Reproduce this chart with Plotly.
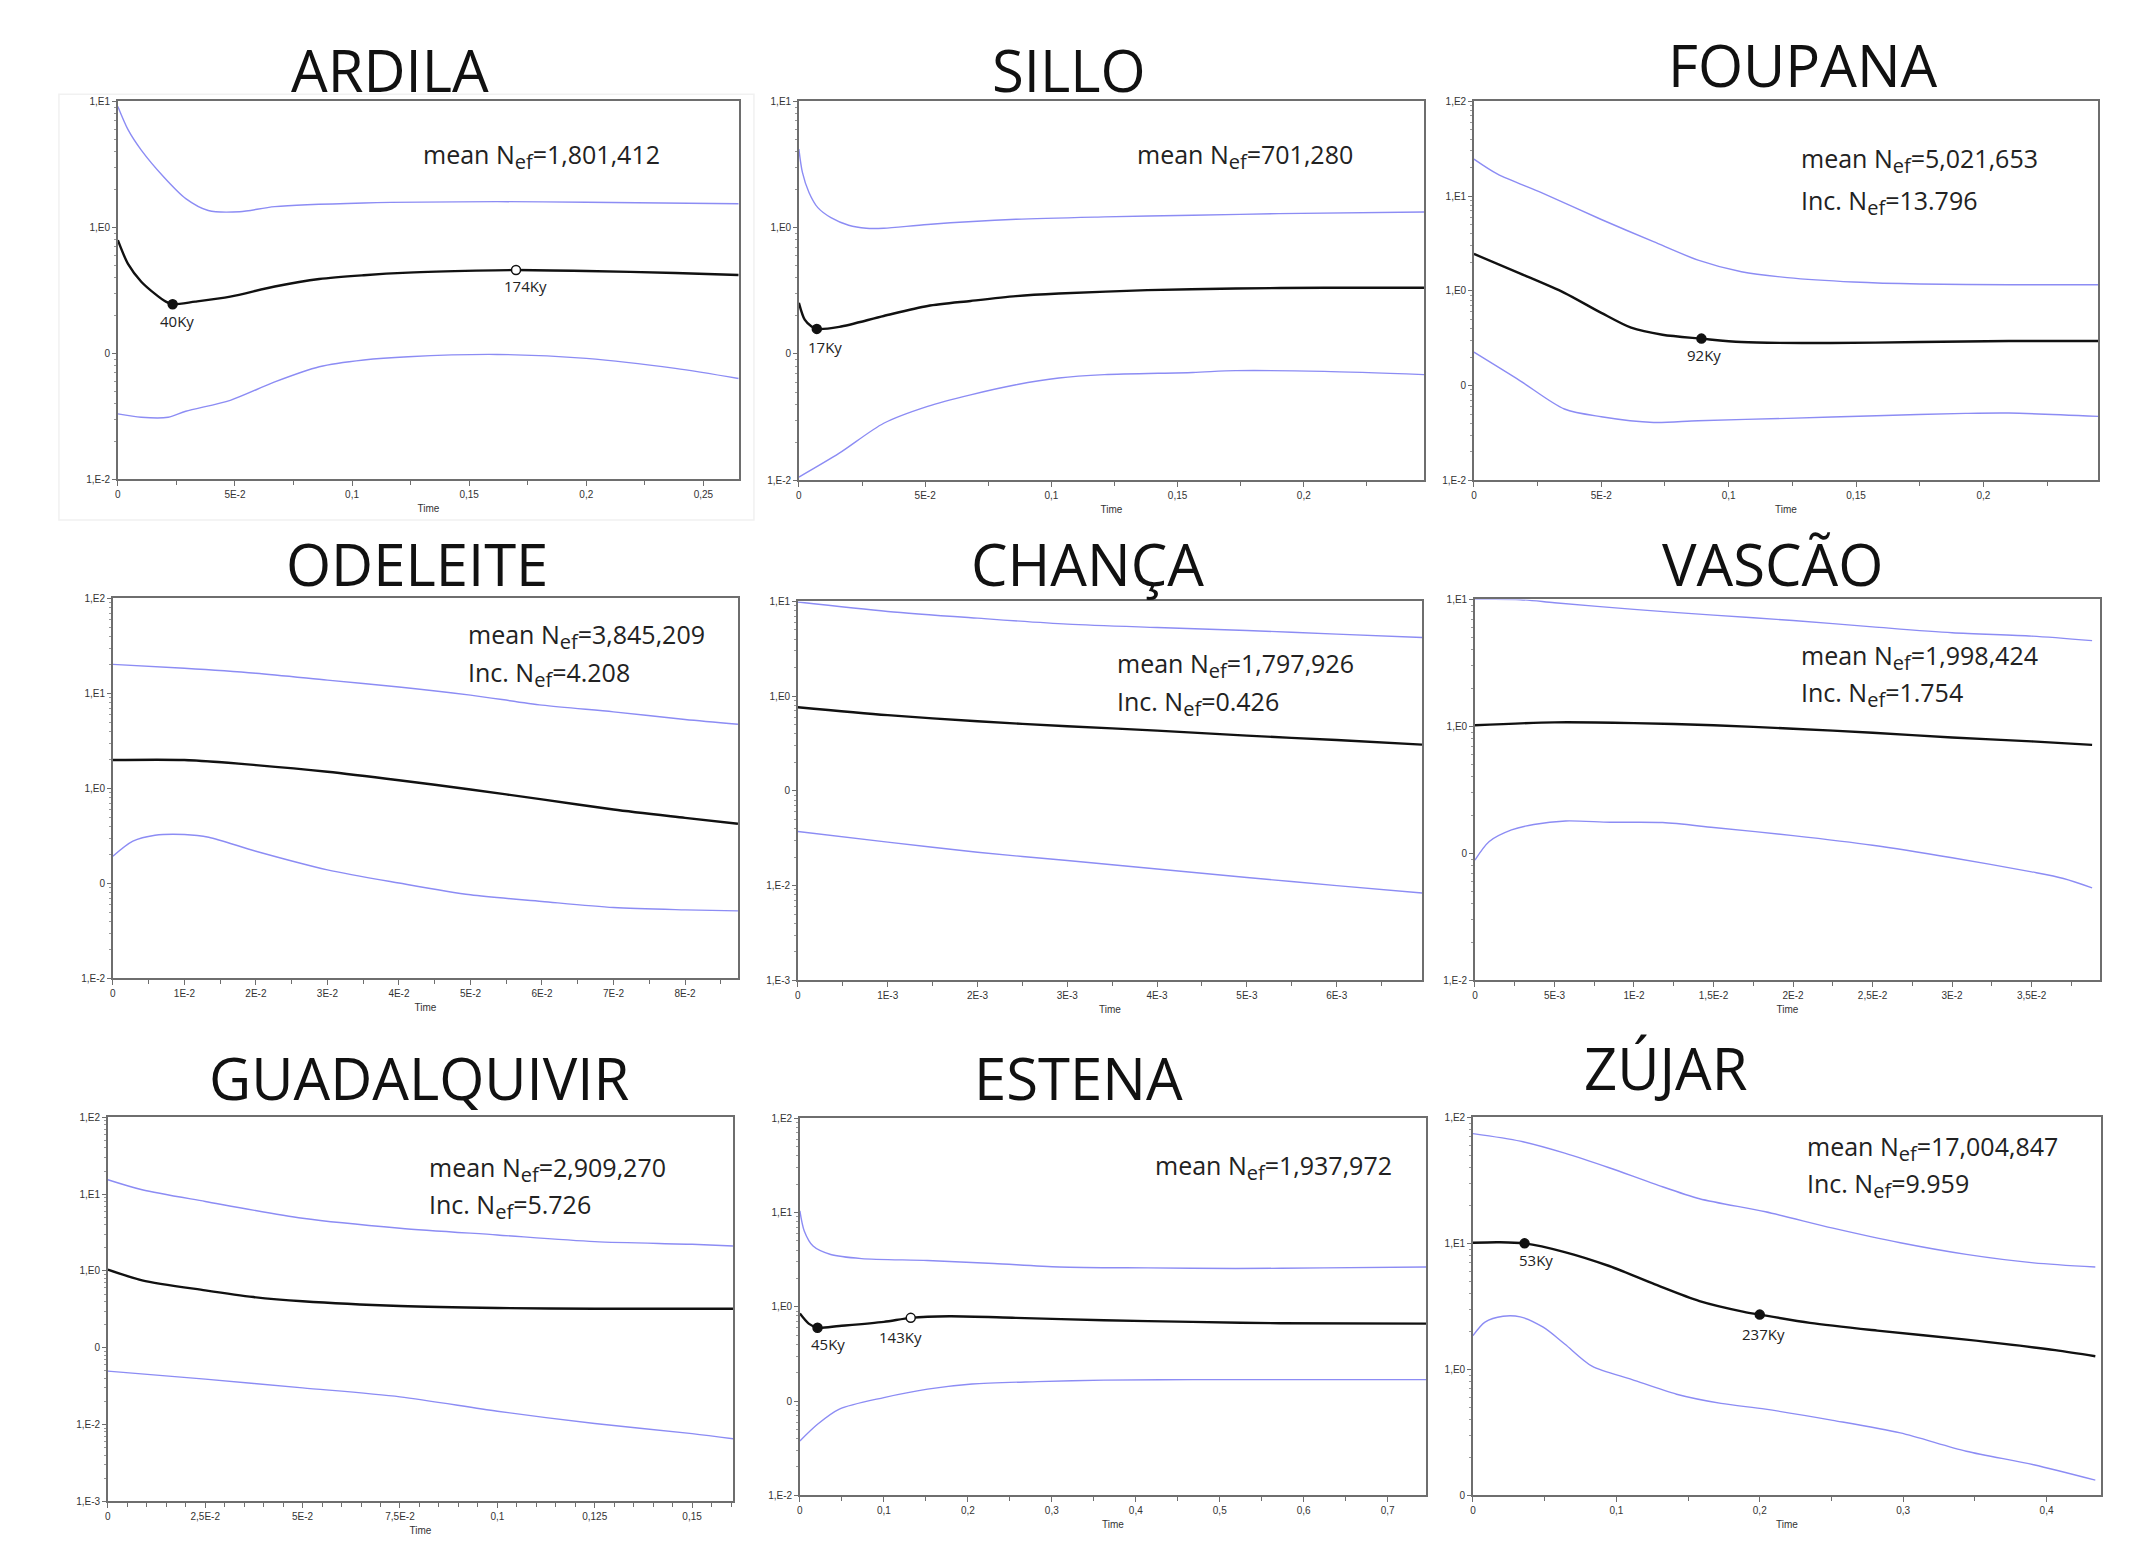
import math
import plotly.graph_objects as go

W, H = 2144, 1555          # browser page size
OFF = 8                    # default body margin of the html page
FW, FH = W - 2 * OFF, H - 2 * OFF   # figure size so the page fits exactly

# ---------------- DATA ----------------
# ARDILA
ardila_t_mean = [0, 0.0044, 0.010, 0.016, 0.0205, 0.0234, 0.033, 0.048, 0.067, 0.086, 0.105, 0.124, 0.153, 0.17, 0.2, 0.238, 0.265]
ardila_mean = [0.79, 0.51, 0.37, 0.295, 0.257, 0.245, 0.257, 0.282, 0.339, 0.389, 0.417, 0.437, 0.453, 0.458, 0.450, 0.434, 0.418]
ardila_t_up = [0, 0.0044, 0.010, 0.0196, 0.029, 0.0386, 0.052, 0.067, 0.105, 0.162, 0.2, 0.265]
ardila_up = [9.1, 5.93, 4.1, 2.51, 1.69, 1.36, 1.33, 1.46, 1.56, 1.6, 1.58, 1.54]
ardila_t_lo = [0, 0.010, 0.0215, 0.029, 0.048, 0.067, 0.086, 0.105, 0.124, 0.162, 0.2, 0.238, 0.265]
ardila_lo = [0.0331, 0.0311, 0.0311, 0.0347, 0.0424, 0.0593, 0.0782, 0.0885, 0.094, 0.098, 0.0912, 0.0759, 0.0631]
ardila_mark_t = [0.0234, 0.17]
ardila_mark_v = [0.245, 0.458]
ardila_mark_lbl = ["40Ky", "174Ky"]
ardila_mark_open = [False, True]
ardila_stats = [("mean ", "1,801,412")]

# SILLO
sillo_t_mean = [0, 0.0023, 0.0049, 0.0071, 0.016, 0.0336, 0.051, 0.068, 0.086, 0.103, 0.138, 0.173, 0.208, 0.2476]
sillo_mean = [0.254, 0.187, 0.166, 0.158, 0.164, 0.2, 0.24, 0.263, 0.287, 0.301, 0.32, 0.33, 0.334, 0.334]
sillo_t_up = [0, 0.0014, 0.004, 0.0075, 0.0127, 0.0197, 0.0267, 0.0336, 0.051, 0.086, 0.121, 0.156, 0.19, 0.2476]
sillo_up = [4.19, 2.74, 1.9, 1.44, 1.2, 1.045, 0.989, 0.989, 1.06, 1.164, 1.216, 1.253, 1.291, 1.33]
sillo_t_lo = [0, 0.016, 0.0336, 0.051, 0.068, 0.086, 0.103, 0.121, 0.156, 0.173, 0.208, 0.2476]
sillo_lo = [0.0106, 0.0164, 0.0283, 0.0385, 0.0475, 0.0571, 0.0646, 0.0686, 0.0714, 0.0738, 0.0728, 0.0686]
sillo_mark_t = [0.0071]
sillo_mark_v = [0.158]
sillo_mark_lbl = ["17Ky"]
sillo_mark_open = [False]
sillo_stats = [("mean ", "701,280")]

# FOUPANA
foupana_t_mean = [0, 0.018, 0.0355, 0.05, 0.0617, 0.074, 0.0893, 0.105, 0.14, 0.175, 0.21, 0.245]
foupana_mean = [2.45, 1.53, 0.953, 0.585, 0.408, 0.344, 0.313, 0.288, 0.281, 0.288, 0.295, 0.295]
foupana_t_up = [0, 0.0093, 0.0267, 0.05, 0.0705, 0.088, 0.105, 0.123, 0.149, 0.175, 0.21, 0.245]
foupana_up = [24.5, 17.0, 10.8, 5.66, 3.3, 2.11, 1.59, 1.38, 1.24, 1.18, 1.16, 1.16]
foupana_t_lo = [0, 0.018, 0.0355, 0.05, 0.0705, 0.088, 0.123, 0.158, 0.193, 0.21, 0.245]
foupana_lo = [0.225, 0.113, 0.0566, 0.0469, 0.0408, 0.0426, 0.0451, 0.0481, 0.0509, 0.0513, 0.0473]
foupana_mark_t = [0.0893]
foupana_mark_v = [0.313]
foupana_mark_lbl = ["92Ky"]
foupana_mark_open = [False]
foupana_stats = [("mean ", "5,021,653"), ("Inc. ", "13.796")]

# ODELEITE
odeleite_t_mean = [0, 0.01, 0.02, 0.03, 0.04, 0.05, 0.06, 0.07, 0.08, 0.0874]
odeleite_mean = [1.99, 1.99, 1.76, 1.5, 1.22, 0.975, 0.766, 0.6, 0.49, 0.424]
odeleite_t_up = [0, 0.01, 0.02, 0.03, 0.04, 0.05, 0.06, 0.07, 0.08, 0.0874]
odeleite_up = [20.2, 18.4, 16.3, 13.8, 11.7, 9.6, 7.53, 6.4, 5.31, 4.74]
odeleite_t_lo = [0, 0.0028, 0.0059, 0.01, 0.0134, 0.02, 0.03, 0.04, 0.05, 0.06, 0.07, 0.08, 0.0874]
odeleite_lo = [0.193, 0.278, 0.321, 0.327, 0.306, 0.218, 0.139, 0.101, 0.0759, 0.0646, 0.0557, 0.0527, 0.0514]
odeleite_mark_t, odeleite_mark_v, odeleite_mark_lbl, odeleite_mark_open = [], [], [], []
odeleite_stats = [("mean ", "3,845,209"), ("Inc. ", "4.208")]

# CHANÇA
chanca_t_mean = [0, 0.001, 0.002, 0.003, 0.004, 0.005, 0.006, 0.00695]
chanca_mean = [0.764, 0.63, 0.543, 0.481, 0.433, 0.383, 0.344, 0.308]
chanca_t_up = [0, 0.001, 0.002, 0.003, 0.004, 0.005, 0.006, 0.00695]
chanca_up = [9.84, 7.83, 6.65, 5.75, 5.3, 4.93, 4.51, 4.15]
chanca_t_lo = [0, 0.001, 0.002, 0.003, 0.004, 0.005, 0.006, 0.00695]
chanca_lo = [0.0373, 0.0288, 0.0225, 0.0184, 0.015, 0.0122, 0.01, 0.00836]
chanca_mark_t, chanca_mark_v, chanca_mark_lbl, chanca_mark_open = [], [], [], []
chanca_stats = [("mean ", "1,797,926"), ("Inc. ", "0.426")]

# VASCÃO
vascao_t_mean = [0, 0.005, 0.01, 0.015, 0.02, 0.025, 0.03, 0.035, 0.0388]
vascao_mean = [1.02, 1.076, 1.062, 1.02, 0.959, 0.891, 0.818, 0.762, 0.716]
vascao_t_up = [0, 0.00286, 0.005, 0.01, 0.015, 0.02, 0.025, 0.03, 0.035, 0.0388]
vascao_up = [10.0, 9.95, 9.42, 8.34, 7.52, 6.82, 6.08, 5.46, 5.14, 4.74]
vascao_t_lo = [0, 0.0009, 0.0023, 0.0037, 0.0057, 0.0085, 0.0118, 0.015, 0.02, 0.025, 0.03, 0.035, 0.037, 0.0388]
vascao_lo = [0.0885, 0.124, 0.153, 0.169, 0.18, 0.176, 0.175, 0.16, 0.138, 0.116, 0.0925, 0.0716, 0.0635, 0.0536]
vascao_mark_t, vascao_mark_v, vascao_mark_lbl, vascao_mark_open = [], [], [], []
vascao_stats = [("mean ", "1,998,424"), ("Inc. ", "1.754")]

# GUADALQUIVIR
guad_t_mean = [0, 0.0088, 0.025, 0.0374, 0.05, 0.075, 0.1, 0.125, 0.1605]
guad_mean = [1.04, 0.755, 0.558, 0.457, 0.402, 0.349, 0.329, 0.322, 0.322]
guad_t_up = [0, 0.0088, 0.025, 0.05, 0.075, 0.1, 0.125, 0.15, 0.1605]
guad_up = [15.4, 11.4, 8.02, 4.85, 3.6, 2.94, 2.41, 2.22, 2.11]
guad_t_lo = [0, 0.025, 0.05, 0.075, 0.1, 0.125, 0.15, 0.1605]
guad_lo = [0.0495, 0.039, 0.03, 0.0229, 0.0149, 0.0103, 0.0076, 0.00653]
guad_mark_t, guad_mark_v, guad_mark_lbl, guad_mark_open = [], [], [], []
guad_stats = [("mean ", "2,909,270"), ("Inc. ", "5.726")]

# ESTENA
estena_t_mean = [0, 0.0105, 0.021, 0.047, 0.1, 0.132, 0.178, 0.257, 0.362, 0.467, 0.572, 0.7456]
estena_mean = [0.849, 0.664, 0.601, 0.627, 0.692, 0.764, 0.794, 0.764, 0.721, 0.692, 0.67, 0.664]
estena_t_up = [0, 0.0052, 0.0157, 0.0367, 0.0734, 0.152, 0.231, 0.309, 0.414, 0.519, 0.624, 0.7456]
estena_up = [10.4, 6.37, 4.41, 3.59, 3.25, 3.1, 2.88, 2.65, 2.59, 2.55, 2.59, 2.65]
estena_t_lo = [0, 0.021, 0.047, 0.1, 0.152, 0.205, 0.283, 0.362, 0.467, 0.7456]
estena_lo = [0.0378, 0.0568, 0.0822, 0.109, 0.134, 0.152, 0.161, 0.167, 0.169, 0.169]
estena_mark_t = [0.021, 0.132]
estena_mark_v = [0.601, 0.764]
estena_mark_lbl = ["45Ky", "143Ky"]
estena_mark_open = [False, True]
estena_stats = [("mean ", "1,937,972")]

# ZÚJAR
zujar_t_mean = [0, 0.0177, 0.036, 0.064, 0.095, 0.127, 0.158, 0.189, 0.2, 0.235, 0.282, 0.344, 0.406, 0.434]
zujar_mean = [10.1, 10.2, 10.0, 8.53, 6.61, 4.72, 3.48, 2.86, 2.72, 2.34, 2.03, 1.72, 1.42, 1.27]
zujar_t_up = [0, 0.033, 0.064, 0.095, 0.127, 0.158, 0.204, 0.251, 0.298, 0.344, 0.391, 0.434]
zujar_up = [74.3, 64.7, 52.0, 39.8, 29.5, 22.6, 17.8, 13.2, 10.1, 8.17, 7.0, 6.49]
zujar_t_lo = [0, 0.0084, 0.021, 0.033, 0.049, 0.064, 0.083, 0.111, 0.142, 0.173, 0.204, 0.251, 0.298, 0.344, 0.391, 0.434]
zujar_lo = [1.85, 2.37, 2.64, 2.61, 2.16, 1.59, 1.06, 0.83, 0.635, 0.537, 0.483, 0.394, 0.313, 0.224, 0.175, 0.132]
zujar_mark_t = [0.036, 0.2]
zujar_mark_v = [10.0, 2.72]
zujar_mark_lbl = ["53Ky", "237Ky"]
zujar_mark_open = [False, False]
zujar_stats = [("mean ", "17,004,847"), ("Inc. ", "9.959")]

# tick labels
ytick_vals = [0.001, 0.01, 0.1, 1, 10, 100]
ytick_text = ["1,E-3", "1,E-2", "0", "1,E0", "1,E1", "1,E2"]
xt_025 = ([0, 0.05, 0.1, 0.15, 0.2, 0.25], ["0", "5E-2", "0,1", "0,15", "0,2", "0,25"])
xt_odeleite = ([0, 0.01, 0.02, 0.03, 0.04, 0.05, 0.06, 0.07, 0.08],
               ["0", "1E-2", "2E-2", "3E-2", "4E-2", "5E-2", "6E-2", "7E-2", "8E-2"])
xt_chanca = ([0, 0.001, 0.002, 0.003, 0.004, 0.005, 0.006],
             ["0", "1E-3", "2E-3", "3E-3", "4E-3", "5E-3", "6E-3"])
xt_vascao = ([0, 0.005, 0.01, 0.015, 0.02, 0.025, 0.03, 0.035],
             ["0", "5E-3", "1E-2", "1,5E-2", "2E-2", "2,5E-2", "3E-2", "3,5E-2"])
xt_guad = ([0, 0.025, 0.05, 0.075, 0.1, 0.125, 0.15],
           ["0", "2,5E-2", "5E-2", "7,5E-2", "0,1", "0,125", "0,15"])
xt_estena = ([0, 0.1, 0.2, 0.3, 0.4, 0.5, 0.6, 0.7],
             ["0", "0,1", "0,2", "0,3", "0,4", "0,5", "0,6", "0,7"])
xt_zujar = ([0, 0.1, 0.2, 0.3, 0.4], ["0", "0,1", "0,2", "0,3", "0,4"])

# ---------------- LAYOUT SPEC (page pixel coordinates) ----------------
def P(title, d, box, xr, yr, xt, minor, tpos, spos, sgap, loff):
    return dict(title=title, d=d, box=box, xr=xr, yr=yr, xt=xt, minor=minor,
                tpos=tpos, spos=spos, sgap=sgap, loff=loff)

def D(tm, m, tu, u, tl, l, mt, mv, ml, mo, st):
    return dict(tm=tm, m=m, tu=tu, u=u, tl=tl, l=l, mt=mt, mv=mv, ml=ml, mo=mo, st=st)

panels = [
    P("ARDILA", D(ardila_t_mean, ardila_mean, ardila_t_up, ardila_up, ardila_t_lo, ardila_lo,
                  ardila_mark_t, ardila_mark_v, ardila_mark_lbl, ardila_mark_open, ardila_stats),
      (115, 737, 96, 477), [0, 0.2652], [-2, 1], xt_025, 0.025, (388, 64), (419, 151), 36,
      [(4, -17), (9, -16)]),
    P("SILLO", D(sillo_t_mean, sillo_mean, sillo_t_up, sillo_up, sillo_t_lo, sillo_lo,
                 sillo_mark_t, sillo_mark_v, sillo_mark_lbl, sillo_mark_open, sillo_stats),
      (797, 1423, 96, 478), [0, 0.2476], [-2, 1], (xt_025[0][:5], xt_025[1][:5]), 0.025,
      (1067, 64), (1134, 151), 36, [(8, -18)]),
    P("FOUPANA", D(foupana_t_mean, foupana_mean, foupana_t_up, foupana_up, foupana_t_lo, foupana_lo,
                   foupana_mark_t, foupana_mark_v, foupana_mark_lbl, foupana_mark_open, foupana_stats),
      (1473, 2098, 96, 478), [0, 0.245], [-2, 2], (xt_025[0][:5], xt_025[1][:5]), 0.025,
      (1803, 59), (1799, 155), 42, [(3, -16)]),
    P("ODELEITE", D(odeleite_t_mean, odeleite_mean, odeleite_t_up, odeleite_up, odeleite_t_lo, odeleite_lo,
                    odeleite_mark_t, odeleite_mark_v, odeleite_mark_lbl, odeleite_mark_open, odeleite_stats),
      (110, 736, 597, 980), [0, 0.0874], [-2, 2], xt_odeleite, 0.005, (415, 562), (464, 635), 38, []),
    P("CHANÇA", D(chanca_t_mean, chanca_mean, chanca_t_up, chanca_up, chanca_t_lo, chanca_lo,
                  chanca_mark_t, chanca_mark_v, chanca_mark_lbl, chanca_mark_open, chanca_stats),
      (796, 1421, 600, 982), [0, 0.00695], [-3, 1], xt_chanca, 0.0005, (1086, 562), (1114, 664), 38, []),
    P("VASCÃO", D(vascao_t_mean, vascao_mean, vascao_t_up, vascao_up, vascao_t_lo, vascao_lo,
                  vascao_mark_t, vascao_mark_v, vascao_mark_lbl, vascao_mark_open, vascao_stats),
      (1474, 2100, 598, 982), [0, 0.0393], [-2, 1], xt_vascao, 0.0025, (1772, 562), (1799, 656), 37, []),
    P("GUADALQUIVIR", D(guad_t_mean, guad_mean, guad_t_up, guad_up, guad_t_lo, guad_lo,
                        guad_mark_t, guad_mark_v, guad_mark_lbl, guad_mark_open, guad_stats),
      (105, 731, 1120, 1507), [0, 0.1605], [-3, 2], xt_guad, 0.005, (417, 1080), (425, 1172), 37, []),
    P("ESTENA", D(estena_t_mean, estena_mean, estena_t_up, estena_up, estena_t_lo, estena_lo,
                  estena_mark_t, estena_mark_v, estena_mark_lbl, estena_mark_open, estena_stats),
      (798, 1425, 1121, 1501), [0, 0.7456], [-2, 2], xt_estena, 0.05, (1077, 1080), (1152, 1170), 36,
      [(10, -16), (-10, -19)]),
    P("ZÚJAR", D(zujar_t_mean, zujar_mean, zujar_t_up, zujar_up, zujar_t_lo, zujar_lo,
                 zujar_mark_t, zujar_mark_v, zujar_mark_lbl, zujar_mark_open, zujar_stats),
      (1472, 2101, 1120, 1501), [0, 0.438], [-1, 2], xt_zujar, 0.05, (1665, 1070), (1805, 1151), 37,
      [(11, -17), (4, -19)]),
]

def fx(px):
    return (px - OFF) / FW

def fy(py):
    return 1 - (py - OFF) / FH

BLUE = "#8c8cf4"
BLACK = "#111111"
AXC = "#6e6e6e"
TICKFONT = dict(family="Liberation Sans", size=10, color="#333")

fig = go.Figure()
layout = dict(width=FW, height=FH, margin=dict(l=0, r=0, t=0, b=0),
              paper_bgcolor="white", plot_bgcolor="white", showlegend=False)
annotations = []
shapes = [dict(type="rect", xref="paper", yref="paper", x0=fx(56), x1=fx(752), y0=fy(518), y1=fy(89),
               line=dict(color="#f1f1f1", width=1.5), layer="below")]

for i, p in enumerate(panels, start=1):
    sx = "" if i == 1 else str(i)
    xa, ya = "x" + sx, "y" + sx
    d = p["d"]
    l, r, t, b = p["box"]
    for tx, vy in ((d["tu"], d["u"]), (d["tl"], d["l"])):
        fig.add_trace(go.Scatter(x=tx, y=vy, mode="lines", xaxis=xa, yaxis=ya,
                                 line=dict(color=BLUE, width=1.4, shape="spline", smoothing=0.8),
                                 hoverinfo="skip"))
    fig.add_trace(go.Scatter(x=d["tm"], y=d["m"], mode="lines", xaxis=xa, yaxis=ya,
                             line=dict(color=BLACK, width=2.4, shape="spline", smoothing=0.8),
                             hoverinfo="skip"))
    if d["mt"]:
        fig.add_trace(go.Scatter(
            x=d["mt"], y=d["mv"], mode="markers", xaxis=xa, yaxis=ya,
            marker=dict(size=9, color=["white" if o else BLACK for o in d["mo"]],
                        line=dict(color=BLACK, width=1.5)),
            hoverinfo="skip"))
        for (mt, mv, ml), (dx, dy) in zip(zip(d["mt"], d["mv"], d["ml"]), p["loff"]):
            annotations.append(dict(text=ml, x=mt, y=math.log10(mv), xref=xa, yref=ya,
                                    xanchor="center", yanchor="middle", showarrow=False,
                                    xshift=dx, yshift=dy,
                                    font=dict(family="Open Sans", size=15, color="#222")))
    xt = p["xt"]
    layout["xaxis" + sx] = dict(
        domain=[fx(l), fx(r)], range=p["xr"], anchor=ya,
        tickmode="array", tickvals=xt[0], ticktext=xt[1],
        ticks="outside", ticklen=5, tickwidth=1, tickcolor=AXC,
        showline=True, mirror=True, linecolor=AXC, linewidth=1.5,
        showgrid=False, zeroline=False, tickfont=TICKFONT,
        minor=dict(tick0=0, dtick=p["minor"], ticks="outside", ticklen=4, tickcolor=AXC, showgrid=False),
        title=dict(text="Time", font=dict(family="Liberation Sans", size=10, color="#333"), standoff=6))
    layout["yaxis" + sx] = dict(
        domain=[fy(b), fy(t)], range=p["yr"], anchor=xa, type="log",
        tickmode="array", tickvals=ytick_vals, ticktext=ytick_text,
        ticks="outside", ticklen=4, tickwidth=1, tickcolor=AXC,
        showline=True, mirror=True, linecolor=AXC, linewidth=1.5,
        showgrid=False, zeroline=False, tickfont=TICKFONT,
        minor=dict(dtick="D1", ticks="outside", ticklen=2, tickcolor="#999", showgrid=False))
    tx_, ty_ = p["tpos"]
    annotations.append(dict(text=p["title"], x=fx(tx_), y=fy(ty_), xref="paper", yref="paper",
                            xanchor="center", yanchor="middle", showarrow=False,
                            font=dict(family="Open Sans", size=58, color="#111")))
    sxp, syp = p["spos"]
    for k, (lead, val) in enumerate(d["st"]):
        txt = lead + "N<sub><span style='font-size:20px'>ef</span></sub>=" + val
        annotations.append(dict(text=txt, x=fx(sxp), y=fy(syp + p["sgap"] * k), xref="paper", yref="paper",
                                xanchor="left", yanchor="middle", showarrow=False,
                                font=dict(family="Open Sans", size=25, color="#222")))

layout["annotations"] = annotations
layout["shapes"] = shapes
fig.update_layout(**layout)
fig.write_html("out.html")
